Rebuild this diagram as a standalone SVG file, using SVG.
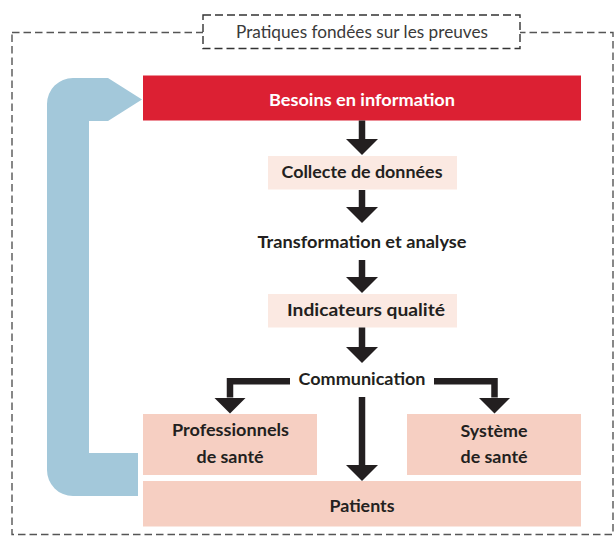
<svg xmlns="http://www.w3.org/2000/svg" width="616" height="538" viewBox="0 0 616 538">
  <style>
    .lbl { font-family: Lato, "Open Sans", "Liberation Sans", sans-serif; font-weight: bold; font-size: 17.5px; fill: #231f20; text-anchor: middle; }
    .white { fill: #ffffff; }
    .title { font-family: Lato, "Open Sans", "Liberation Sans", sans-serif; font-weight: normal; font-size: 17.5px; fill: #3a3a3a; text-anchor: middle; }
    .frame { fill: none; stroke: #555555; stroke-width: 1.4; stroke-dasharray: 7.5 4; }
    .titlebox { fill: #ffffff; stroke: #333333; stroke-width: 1.4; stroke-dasharray: 8 4; }
    .light { fill: #fbe9e2; }
    .pink { fill: #f6cfc2; }
    .red { fill: #dc2033; }
    .flow { fill: none; stroke: #231f20; stroke-width: 6.5; stroke-linejoin: miter; marker-end: url(#head); }
  </style>
  <defs>
    <marker id="head" markerUnits="userSpaceOnUse" viewBox="0 0 16 32" refX="0" refY="16" markerWidth="16" markerHeight="32" orient="auto">
      <path d="M0,0 L16,16 L0,32 Z" fill="#231f20"/>
    </marker>
  </defs>

  <rect width="616" height="538" fill="#ffffff"/>

  <!-- outer dashed frame with its caption -->
  <g id="frame">
    <rect class="frame" x="12" y="32.5" width="601" height="502"/>
    <rect class="titlebox" x="203" y="15" width="317" height="33.5"/>
    <text class="title" x="362" y="37.7" textLength="252" lengthAdjust="spacingAndGlyphs">Pratiques fondées sur les preuves</text>
  </g>

  <!-- feedback loop back to the information needs -->
  <g id="feedback">
    <path d="M108,78 L142,99.5 L108,121 L89,121 L89,453 L138,453 L138,496 L73,496 A26,26 0 0 1 47,470 L47,104 A26,26 0 0 1 73,78 Z" fill="#a3c8da"/>
  </g>

  <g id="besoins">
    <rect class="red" x="143" y="75.5" width="438" height="45"/>
    <text class="lbl white" x="362" y="105.7" textLength="186" lengthAdjust="spacingAndGlyphs">Besoins en information</text>
  </g>

  <g id="collecte">
    <rect class="light" x="268" y="156" width="189" height="33.5"/>
    <text class="lbl" x="362" y="178" textLength="161" lengthAdjust="spacingAndGlyphs">Collecte de données</text>
  </g>

  <g id="transformation">
    <text class="lbl" x="362" y="248" textLength="209" lengthAdjust="spacingAndGlyphs">Transformation et analyse</text>
  </g>

  <g id="indicateurs">
    <rect class="light" x="268" y="294" width="189" height="33.5"/>
    <text class="lbl" x="366" y="316" textLength="158" lengthAdjust="spacingAndGlyphs">Indicateurs qualité</text>
  </g>

  <g id="communication">
    <text class="lbl" x="362" y="385" textLength="127" lengthAdjust="spacingAndGlyphs">Communication</text>
  </g>

  <g id="professionnels">
    <rect class="pink" x="143" y="414" width="174" height="61"/>
    <text class="lbl" x="230.5" y="436" textLength="117" lengthAdjust="spacingAndGlyphs">Professionnels</text>
    <text class="lbl" x="230" y="463" textLength="67" lengthAdjust="spacingAndGlyphs">de santé</text>
  </g>

  <g id="systeme">
    <rect class="pink" x="407" y="414" width="174" height="61"/>
    <text class="lbl" x="494" y="436.5" textLength="67" lengthAdjust="spacingAndGlyphs">Système</text>
    <text class="lbl" x="494" y="463" textLength="67" lengthAdjust="spacingAndGlyphs">de santé</text>
  </g>

  <g id="patients">
    <rect class="pink" x="143" y="481" width="438" height="45.5"/>
    <text class="lbl" x="362" y="511.5" textLength="65" lengthAdjust="spacingAndGlyphs">Patients</text>
  </g>

  <!-- connectors -->
  <g id="connectors">
    <path class="flow" d="M362,120.5 V139"/>
    <path class="flow" d="M362,190 V207"/>
    <path class="flow" d="M362,260 V277"/>
    <path class="flow" d="M362,327.5 V347"/>
    <path class="flow" d="M290,381.3 H230 V397.5"/>
    <path class="flow" d="M434,381.3 H494.5 V397.5"/>
    <path class="flow" d="M362,397 V465"/>
  </g>
</svg>
